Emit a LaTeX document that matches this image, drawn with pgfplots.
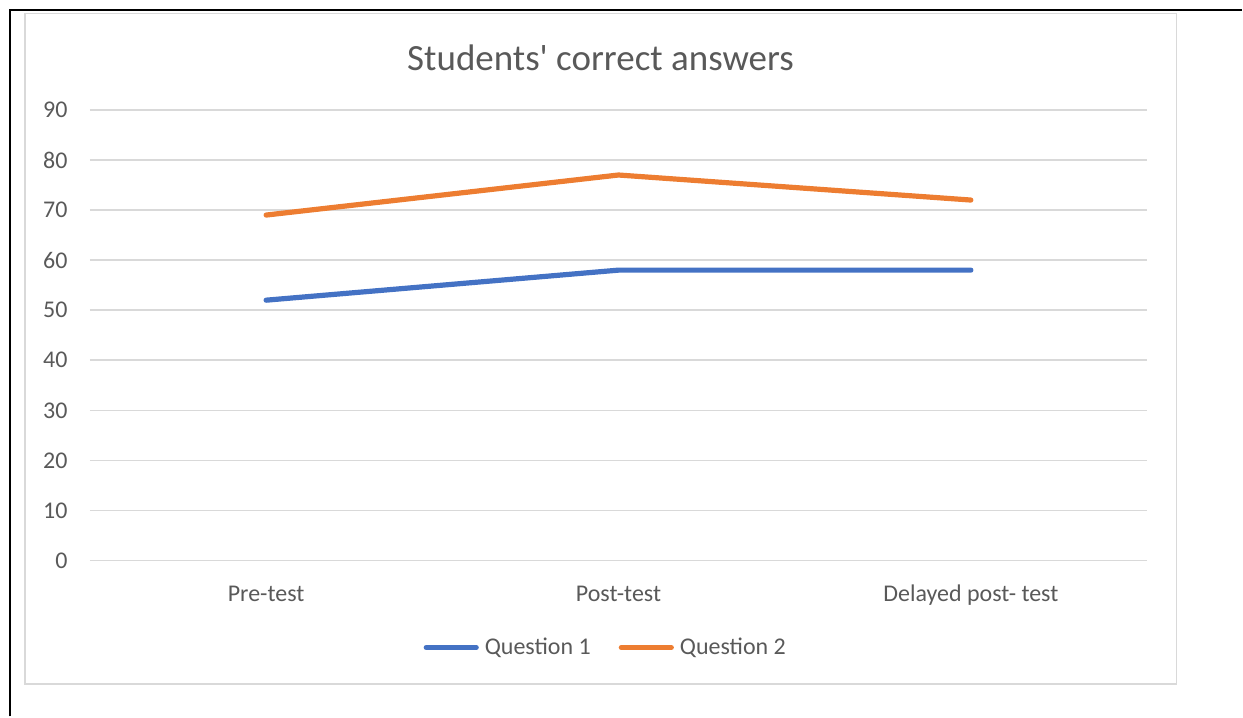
\documentclass[border=0pt]{standalone}
\usepackage{pgfplots}
\pgfplotsset{compat=1.18}
\usepackage{fontspec}
\setmainfont{Carlito}
\definecolor{gridgray}{HTML}{D9D9D9}
\definecolor{txtgray}{HTML}{595959}
\definecolor{qblue}{HTML}{4472C4}
\definecolor{qorange}{HTML}{ED7D31}
\begin{document}
\begin{tikzpicture}
\path (0,0) rectangle (621.5pt,358.5pt);
% outer black frame (top and left)
\draw[black, line width=1pt] (5.25pt,0pt) -- (5.25pt,353.25pt) -- (621.5pt,353.25pt);
% chart area frame
\draw[gridgray, line width=0.8pt] (12.65pt,16.35pt) rectangle (588.75pt,351.75pt);
% title
\node[anchor=base, text=txtgray, font=\fontsize{18.5pt}{20pt}\selectfont, inner sep=0pt] at (300.5pt,323.4pt) {Students\textquotesingle{} correct answers};
\begin{axis}[
  at={(45pt,78pt)}, anchor=south west,
  scale only axis, width=529pt, height=225.5pt,
  xmin=-0.5, xmax=2.5, ymin=0, ymax=90,
  xtick={0,1,2},
  xticklabels={Pre-test, Post-test, Delayed post- test},
  ytick={0,10,...,90},
  axis line style={draw=none},
  tick style={draw=none},
  major tick length=0pt,
  ymajorgrids,
  major grid style={gridgray, line width=0.8pt},
  /pgf/number format/assume math mode=true,
  ticklabel style={text=txtgray, font=\fontsize{12pt}{14pt}\selectfont, inner sep=0pt},
  yticklabel style={anchor=east, xshift=-11pt},
  xticklabel style={anchor=base, yshift=-20.4pt},
  legend columns=2,
  legend style={at={(0.487,-0.193)}, anchor=center, draw=none, fill=none,
    inner sep=0pt, font=\fontsize{12pt}{14pt}\selectfont, text=txtgray,
    nodes={inner sep=0pt},
    /tikz/every odd column/.append style={column sep=3pt},
    /tikz/every even column/.append style={column sep=14pt}},
  legend image code/.code={\draw[#1, line width=2.6pt, line cap=round] (0pt,0pt) -- (25pt,0pt);},
]
\addplot[qblue, line width=2.6pt, line cap=round, line join=round] coordinates {(0,52) (1,58) (2,58)};
\addlegendentry{Question 1}
\addplot[qorange, line width=2.6pt, line cap=round, line join=round] coordinates {(0,69) (1,77) (2,72)};
\addlegendentry{Question 2}
\end{axis}
\end{tikzpicture}
\end{document}
